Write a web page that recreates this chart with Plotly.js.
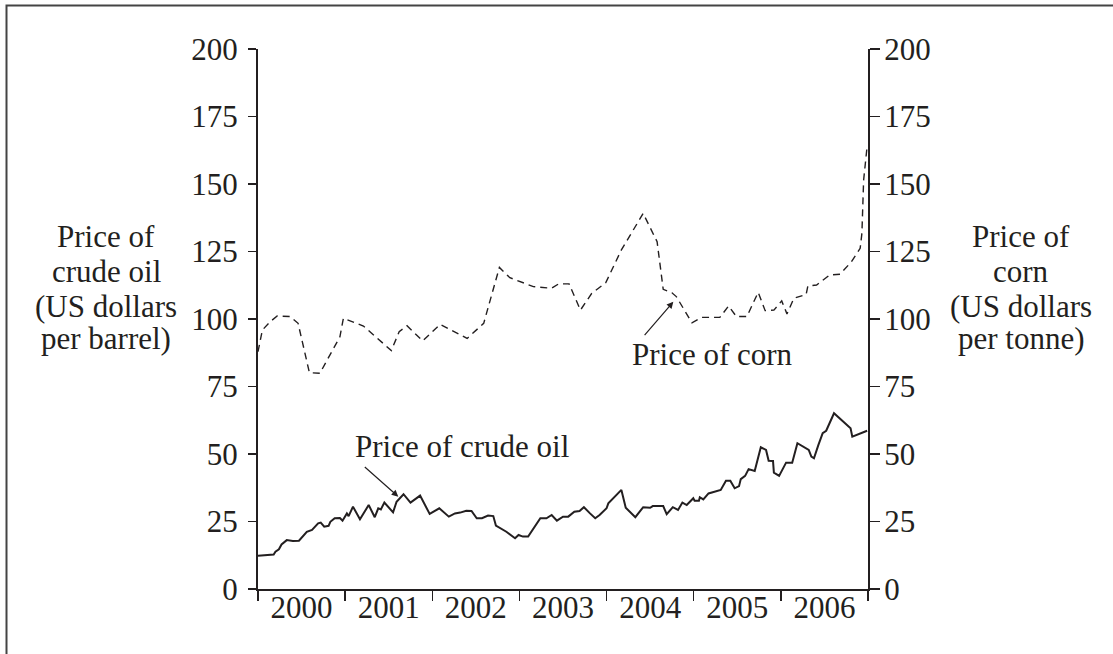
<!DOCTYPE html>
<html>
<head>
<meta charset="utf-8">
<script src="https://cdn.plot.ly/plotly-3.0.1.min.js"></script>
<style>html,body{margin:0;padding:0;background:#fff;}#chart{width:1113px;height:654px;}</style>
</head>
<body>
<div id="chart"></div>
<script>
// Crude oil price (US dollars per barrel), time as decimal year
var oilYears = [2000.00,2000.18,2000.20,2000.24,2000.27,2000.33,2000.40,2000.47,2000.56,2000.62,2000.69,2000.72,2000.76,2000.81,2000.83,2000.88,2000.94,2000.97,
  2001.02,2001.04,2001.09,2001.17,2001.27,2001.34,2001.38,2001.41,2001.45,2001.55,2001.59,2001.67,2001.75,2001.86,2001.97,
  2002.08,2002.19,2002.26,2002.32,2002.39,2002.45,2002.51,2002.57,2002.64,2002.70,2002.73,2002.85,2002.95,2002.99,
  2003.04,2003.10,2003.24,2003.31,2003.37,2003.43,2003.50,2003.56,2003.63,2003.69,2003.74,2003.81,2003.87,2003.92,2003.96,
  2004.00,2004.02,2004.17,2004.22,2004.33,2004.42,2004.50,2004.53,2004.65,2004.69,2004.76,2004.82,2004.87,2004.92,2004.995,
  2005.01,2005.06,2005.07,2005.11,2005.17,2005.31,2005.37,2005.42,2005.47,2005.52,2005.54,2005.59,2005.63,2005.70,2005.77,2005.83,2005.86,2005.91,2005.92,2005.98,
  2006.06,2006.13,2006.19,2006.32,2006.35,2006.38,2006.43,2006.48,2006.52,2006.61,2006.80,2006.82,2006.99];
var oilPrice = [12.3,12.8,13.8,14.7,16.5,18.1,17.8,17.9,21.2,21.9,24.3,24.6,23.1,23.4,24.9,26.2,26.3,25.3,
  28.0,27.0,30.5,25.8,31.1,26.6,29.9,29.5,32.0,28.4,32.3,35.1,32.0,34.6,27.8,
  29.9,26.8,28.0,28.3,29.0,28.9,26.2,26.2,27.2,27.0,23.5,21.2,18.8,20.0,
  19.4,19.4,26.2,26.2,27.4,25.3,26.8,26.8,28.6,28.9,30.3,28.0,26.2,27.4,28.6,
  29.9,31.7,36.7,30.1,26.6,30.3,30.1,30.7,30.7,27.7,30.3,29.3,32.0,31.1,33.6,
  32.7,32.7,34.0,33.2,35.4,36.7,40.1,40.1,37.3,38.1,40.7,41.9,44.4,43.7,52.5,51.5,47.5,47.4,43.1,41.9,
  46.8,46.8,54.0,51.5,49.0,48.4,53.3,57.7,58.6,65.1,59.5,56.4,58.6];

// Corn price (US dollars per tonne)
var cornYears = [2000.00,2000.05,2000.14,2000.22,2000.37,2000.46,2000.59,2000.71,2000.94,2000.98,
  2001.21,2001.53,2001.62,2001.71,2001.89,2002.09,2002.40,2002.59,2002.77,2002.89,
  2003.16,2003.37,2003.45,2003.57,2003.70,2003.83,2003.99,2004.17,2004.42,2004.58,2004.65,2004.75,2004.80,2004.98,
  2005.09,2005.30,2005.40,2005.49,2005.61,2005.74,2005.82,2005.92,2006.01,2006.07,2006.15,2006.29,2006.31,2006.41,
  2006.56,2006.68,2006.81,2006.91,2006.93,2006.935,2006.95,2006.99];
var cornPrice = [87.9,95.9,99.0,101.1,100.9,98.4,80.1,79.9,93.4,100.3,
  97.4,88.3,95.3,97.5,91.9,98.0,92.8,98.4,119.1,115.3,
  112.0,111.4,113.0,113.0,103.3,109.5,113.4,125.6,139.1,128.6,111.0,109.7,108.3,98.6,
  100.6,100.6,104.8,100.9,100.9,109.9,103.1,103.3,106.7,101.9,107.7,109.1,112.2,112.6,
  116.3,116.6,121.2,126.2,131.7,140.4,151.5,164.0];

var yearTicks = [2000,2001,2002,2003,2004,2005,2006,2007];
var yearLabelPos = [2000.5,2001.5,2002.5,2003.5,2004.5,2005.5,2006.5];
var yearLabels = ['2000','2001','2002','2003','2004','2005','2006'];
var priceTicks = [0,25,50,75,100,125,150,175,200];

var leftTitle = ['Price of','crude oil','(US dollars','per barrel)'];
var rightTitle = ['Price of','corn','(US dollars','per tonne)'];

var INK = '#231f20';
var FONT = 'Liberation Serif, Times New Roman, serif';
var FS = 31;

var traces = [
  {x: oilYears, y: oilPrice, type: 'scatter', mode: 'lines', name: 'Price of crude oil',
   line: {color: INK, width: 2}, yaxis: 'y', hoverinfo: 'x+y'},
  {x: cornYears, y: cornPrice, type: 'scatter', mode: 'lines', name: 'Price of corn',
   line: {color: INK, width: 1.4, dash: '7px,5px'}, yaxis: 'y2', hoverinfo: 'x+y'}
];

var annotations = [];
var titleY = [236, 271, 306, 339];
for (var i = 0; i < leftTitle.length; i++) {
  annotations.push({xref: 'paper', yref: 'paper', x: (106 - 258) / 610, y: (589 - titleY[i]) / 540,
    xanchor: 'center', yanchor: 'middle', showarrow: false, text: leftTitle[i],
    font: {family: FONT, size: FS, color: INK}});
  annotations.push({xref: 'paper', yref: 'paper', x: (1021 - 258) / 610, y: (589 - titleY[i]) / 540,
    xanchor: 'center', yanchor: 'middle', showarrow: false, text: rightTitle[i],
    font: {family: FONT, size: FS, color: INK}});
}
// series labels
annotations.push({xref: 'x', yref: 'y', x: 2002.34, y: 52.6, xanchor: 'center', yanchor: 'middle',
  showarrow: false, text: 'Price of crude oil', font: {family: FONT, size: FS, color: INK}});
annotations.push({xref: 'x', yref: 'y', x: 2005.22, y: 87.0, xanchor: 'center', yanchor: 'middle',
  showarrow: false, text: 'Price of corn', font: {family: FONT, size: FS, color: INK}});
// arrows
annotations.push({xref: 'x', yref: 'y', x: 2001.61, y: 34.2, ax: -35, ay: -31, text: '',
  showarrow: true, arrowhead: 2, arrowsize: 1.1, arrowwidth: 1.2, arrowcolor: INK, standoff: 0});
annotations.push({xref: 'x', yref: 'y', x: 2004.766, y: 106.4, ax: -30, ay: 35, text: '',
  showarrow: true, arrowhead: 2, arrowsize: 1.1, arrowwidth: 1.2, arrowcolor: INK, standoff: 0});

var layout = {
  width: 1113, height: 654,
  margin: {l: 258, r: 245, t: 49, b: 65, pad: 0},
  paper_bgcolor: '#ffffff', plot_bgcolor: '#ffffff',
  showlegend: false,
  font: {family: FONT, size: FS, color: INK},
  xaxis: {
    range: [2000, 2007], showgrid: false, zeroline: false,
    showline: true, linecolor: INK, linewidth: 2,
    tickmode: 'array', tickvals: yearLabelPos, ticktext: yearLabels,
    ticks: '', ticklabelstandoff: -10,
    tickfont: {family: FONT, size: FS, color: INK},
    minor: {tickmode: 'array', tickvals: yearTicks, ticks: 'outside', ticklen: 10, tickwidth: 1.5, tickcolor: INK, showgrid: false}
  },
  yaxis: {
    range: [0, 200], showgrid: false, zeroline: false,
    showline: true, linecolor: INK, linewidth: 2,
    tickmode: 'array', tickvals: priceTicks,
    ticks: 'outside', ticklen: 8, tickwidth: 1.5, tickcolor: INK,
    ticklabelstandoff: 4,
    tickfont: {family: FONT, size: FS, color: INK}
  },
  yaxis2: {
    range: [0, 200], overlaying: 'y', side: 'right', anchor: 'x',
    showgrid: false, zeroline: false,
    showline: true, linecolor: INK, linewidth: 2,
    tickmode: 'array', tickvals: priceTicks,
    ticks: 'outside', ticklen: 10, tickwidth: 1.5, tickcolor: INK,
    ticklabelstandoff: -2,
    tickfont: {family: FONT, size: FS, color: INK}
  },
  annotations: annotations,
  shapes: [
    {type: 'rect', xref: 'paper', yref: 'paper', x0: (6.5 - 258) / 610, x1: 2, y0: -1, y1: (589 - 5.5) / 540,
     line: {color: '#444444', width: 2}, fillcolor: 'rgba(0,0,0,0)', layer: 'below'}
  ]
};

Plotly.newPlot('chart', traces, layout, {staticPlot: true, displayModeBar: false});
</script>
</body>
</html>
